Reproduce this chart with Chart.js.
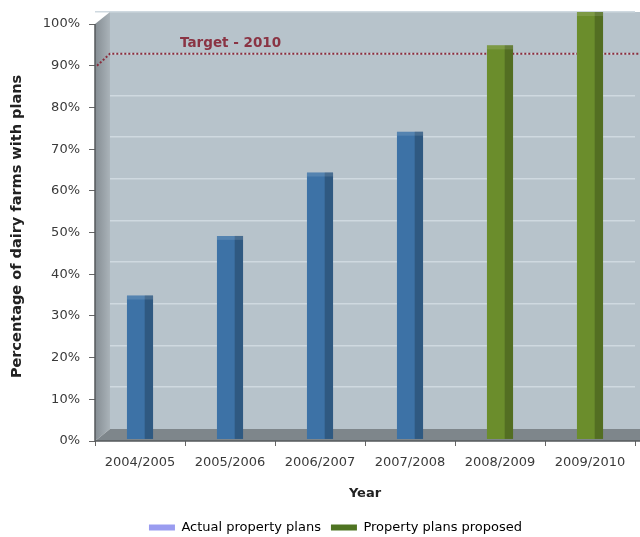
<!DOCTYPE html>
<html>
<head>
<meta charset="utf-8">
<script src="https://cdn.jsdelivr.net/npm/chart.js@4.4.1/dist/chart.umd.min.js"></script>
<style>
  html, body { margin: 0; padding: 0; background: #fff; }
  #wrap { width: 640px; height: 537px; }
</style>
</head>
<body>
<div id="wrap"><canvas id="chart"></canvas></div>
<script>
// dados
const years = ['2004/2005', '2005/2006', '2006/2007', '2007/2008', '2008/2009', '2009/2010'];
const actualPlans = [32, 46.3, 61.5, 71.3, null, null];
const proposedPlans = [null, null, null, null, 92, 100];
const percentTicks = [0, 10, 20, 30, 40, 50, 60, 70, 80, 90, 100];
const targetValue = 90;
const targetLabel = 'Target - 2010';

const FONT = '"DejaVu Sans", Verdana, sans-serif';
// profundidade do efeito 3D (px)
const DX = 15, DY = 12;

const wallPlugin = {
  id: 'walls',
  afterLayout(chart) {
    // legenda mais perto da borda de baixo e um pouco à direita
    const lg = chart.legend;
    lg.top += 7; lg.bottom += 7;
    lg.left += 18; lg.right += 18;
  },
  beforeDraw(chart) {
    const { ctx, chartArea: a, width } = chart;
    ctx.save();
    ctx.fillStyle = '#b7c3cb';
    ctx.fillRect(a.left + DX, a.top, width - a.left - DX, a.bottom - a.top - DY);
    ctx.restore();
  },
  beforeDatasetsDraw(chart) {
    const { ctx, chartArea: a, width } = chart;
    const yFront = chart.scales.y;
    const yBack = chart.scales.yBack;
    const top100 = yFront.getPixelForValue(100);
    ctx.save();
    // parede lateral
    const g = ctx.createLinearGradient(a.left, 0, a.left + DX, 0);
    g.addColorStop(0, '#858d93');
    g.addColorStop(1, '#aab3b9');
    ctx.fillStyle = g;
    ctx.beginPath();
    ctx.moveTo(a.left, a.bottom);
    ctx.lineTo(a.left, top100);
    ctx.lineTo(a.left + DX, top100 - DY);
    ctx.lineTo(a.left + DX, a.bottom - DY);
    ctx.closePath();
    ctx.fill();
    // piso
    ctx.fillStyle = '#7e868b';
    ctx.beginPath();
    ctx.moveTo(a.left, a.bottom);
    ctx.lineTo(a.left + DX, a.bottom - DY);
    ctx.lineTo(width, a.bottom - DY);
    ctx.lineTo(width, a.bottom);
    ctx.closePath();
    ctx.fill();
    // linha da meta
    const ty = yBack.getPixelForValue(targetValue);
    ctx.strokeStyle = '#8a2c3c';
    ctx.lineWidth = 2;
    ctx.setLineDash([2, 2]);
    ctx.beginPath();
    ctx.moveTo(a.left + 2, ty + DY);
    ctx.lineTo(a.left + DX, ty);
    ctx.lineTo(width, ty);
    ctx.stroke();
    ctx.setLineDash([]);
    ctx.fillStyle = '#8a3444';
    ctx.font = 'bold 13.5px ' + FONT;
    ctx.textAlign = 'left';
    ctx.textBaseline = 'middle';
    ctx.fillText(targetLabel, 180, ty - 10);
    // eixos
    ctx.strokeStyle = '#55595c';
    ctx.lineWidth = 1.5;
    ctx.beginPath();
    ctx.moveTo(a.left, top100);
    ctx.lineTo(a.left, a.bottom);
    ctx.lineTo(width, a.bottom);
    ctx.stroke();
    ctx.restore();
  },
  afterDatasetsDraw(chart) {
    const { ctx } = chart;
    ctx.save();
    chart.data.datasets.forEach((ds, i) => {
      const meta = chart.getDatasetMeta(i);
      meta.data.forEach((bar, j) => {
        if (ds.data[j] == null) return;
        const w = bar.width;
        const x0 = bar.x - w / 2;
        // lado direito mais escuro
        ctx.fillStyle = 'rgba(0,0,0,0.22)';
        ctx.fillRect(x0 + w * 0.68, bar.y, w * 0.32, bar.base - bar.y);
        // tampa
        ctx.fillStyle = 'rgba(255,255,255,0.12)';
        ctx.fillRect(x0, bar.y, w, 4);
      });
    });
    ctx.restore();
  }
};

new Chart(document.getElementById('chart'), {
  type: 'bar',
  data: {
    labels: years,
    datasets: [
      {
        label: 'Actual property plans',
        data: actualPlans,
        backgroundColor: '#3d72a6',
        yAxisID: 'yBack',
        base: -2.4,
        barPercentage: 0.29,
        categoryPercentage: 1
      },
      {
        label: 'Property plans proposed',
        data: proposedPlans,
        backgroundColor: '#6b8d2c',
        yAxisID: 'yBack',
        base: -2.4,
        barPercentage: 0.29,
        categoryPercentage: 1
      }
    ]
  },
  options: {
    responsive: true,
    maintainAspectRatio: false,
    animation: false,
    layout: { padding: { top: 12, right: 5, left: 0, bottom: 0 } },
    plugins: {
      tooltip: { enabled: false },
      legend: {
        position: 'bottom',
        labels: {
          boxWidth: 26,
          boxHeight: 6,
          padding: 10,
          color: '#3a3a3a',
          font: { size: 13, family: FONT },
          generateLabels: () => [
            { text: 'Actual property plans', fillStyle: '#9a9cf0', strokeStyle: '#9a9cf0', lineWidth: 0, datasetIndex: 0 },
            { text: 'Property plans proposed', fillStyle: '#4f7422', strokeStyle: '#4f7422', lineWidth: 0, datasetIndex: 1 }
          ]
        }
      }
    },
    scales: {
      x: {
        stacked: true,
        grid: { display: true, drawOnChartArea: false, tickLength: 5, color: '#666', offset: true },
        border: { display: false },
        ticks: { color: '#3a3a3a', font: { size: 13, family: FONT }, padding: 9, maxRotation: 0 },
        title: { display: true, text: 'Year', color: '#222', font: { size: 13, weight: 'bold', family: FONT }, padding: { top: 4, bottom: 3 } },
        afterFit(s) { s.height = 63; }
      },
      y: {
        min: 0,
        max: 102.9,
        position: 'left',
        afterBuildTicks(s) { s.ticks = percentTicks.map(v => ({ value: v })); },
        grid: { display: true, drawOnChartArea: false, tickLength: 6, color: '#666' },
        border: { display: false },
        ticks: {
          color: '#3a3a3a',
          padding: 9,
          font: { size: 13, family: FONT },
          callback: v => v + '%'
        },
        title: { display: true, text: 'Percentage of dairy farms with plans', color: '#222', font: { size: 14.5, weight: 'bold', family: FONT }, padding: { top: 9, bottom: 4 } },
        afterFit(s) { s.width = 95; s.paddingTop = 0; s.paddingBottom = 0; }
      },
      yBack: {
        min: -2.9,
        max: 100,
        position: 'right',
        stacked: true,
        afterBuildTicks(s) { s.ticks = percentTicks.filter(v => v > 0).map(v => ({ value: v })); },
        grid: { display: true, drawTicks: false, color: '#cfd9e0', lineWidth: 1.5 },
        border: { display: false },
        ticks: { display: false },
        afterFit(s) { s.width = 0; s.paddingTop = 0; s.paddingBottom = 0; }
      }
    }
  },
  plugins: [wallPlugin]
});
</script>
</body>
</html>
